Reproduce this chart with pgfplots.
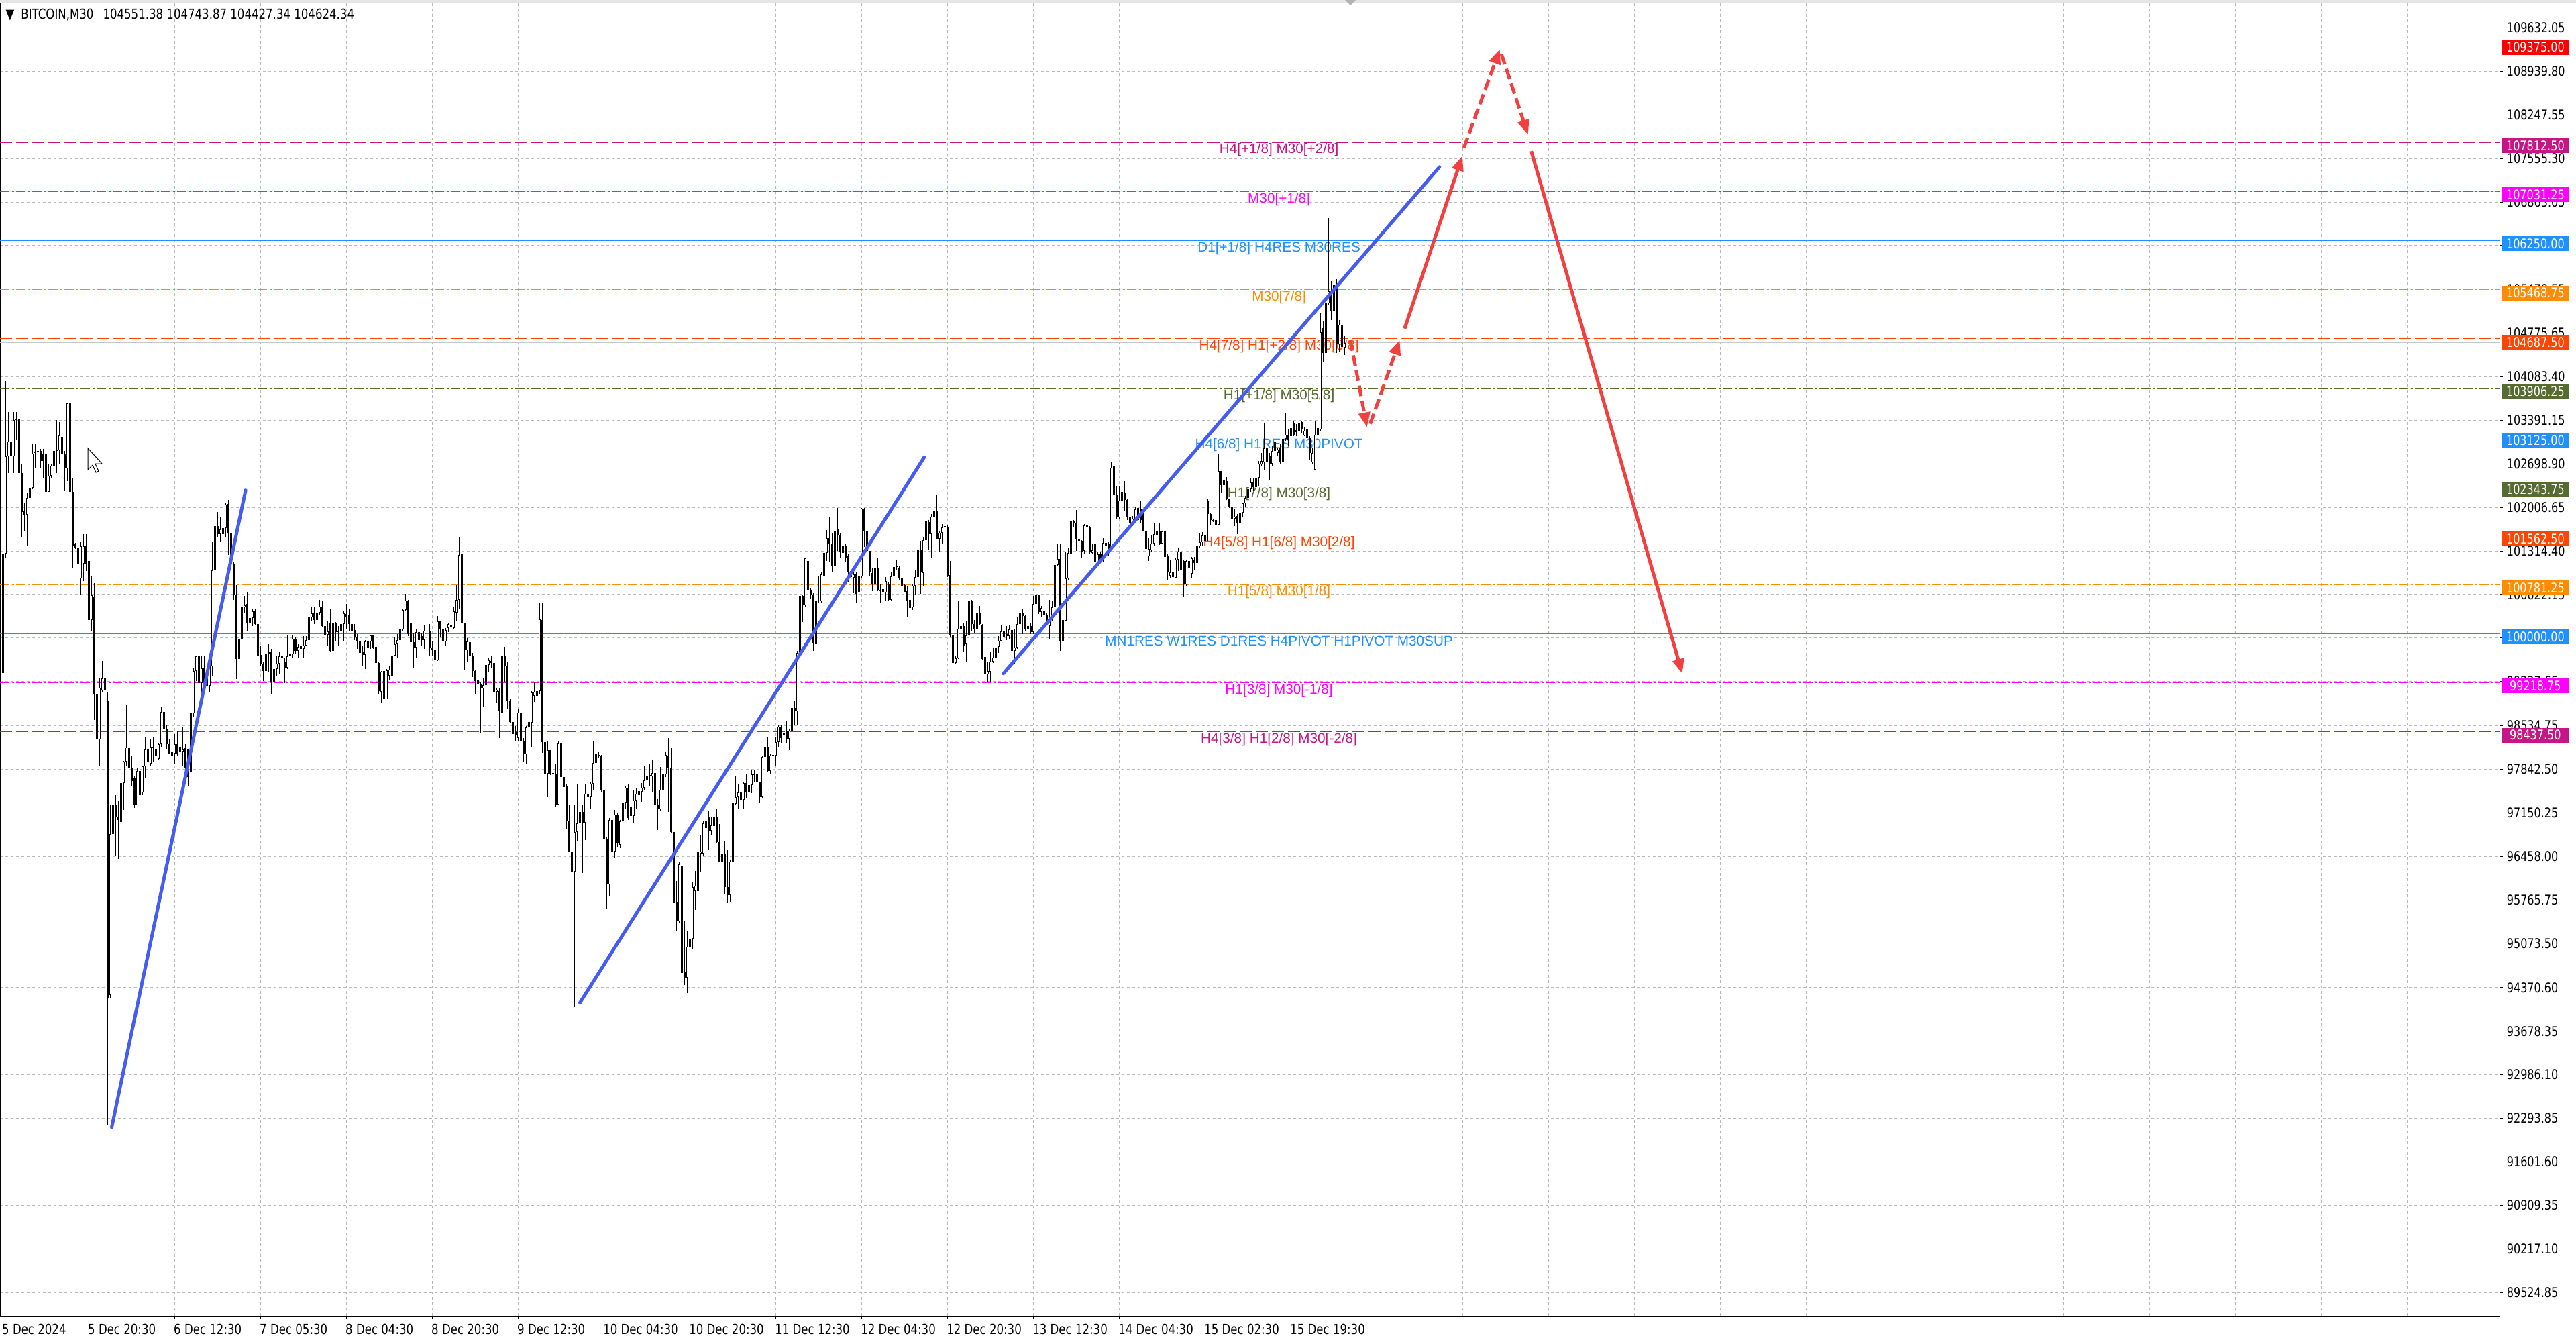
\documentclass[border=0pt]{standalone}
\usepackage{fontspec}
\setmainfont{Liberation Sans}
\newfontfamily\mtfont{DejaVu Sans}[FakeStretch=0.8]
\usepackage{pgfplots}
\usepackage{pgfplotstable}
\pgfplotsset{compat=1.18}
\usetikzlibrary{arrows.meta}
\definecolor{cRed}{HTML}{FF0000}
\definecolor{cViolet}{HTML}{C71585}
\definecolor{cMagenta}{HTML}{FF00FF}
\definecolor{cDodger}{HTML}{1E90FF}
\definecolor{cOrange}{HTML}{FF8C00}
\definecolor{cOrRed}{HTML}{FF4500}
\definecolor{cOlive}{HTML}{556B2F}
\definecolor{cGrid}{HTML}{B8B8B8}
\definecolor{cTrend}{RGB}{68,92,242}
\definecolor{cArrow}{RGB}{242,64,64}
\newcommand{\tickf}{\mtfont\fontsize{5.7pt}{6pt}\selectfont}
\newcommand{\datef}{\mtfont\fontsize{5.9pt}{6pt}\selectfont}
\newcommand{\lvlf}{\fontsize{5.9pt}{7pt}\selectfont}
\tikzset{
  pbox/.style={anchor=west, xshift=0.02cm, yshift=-0.05cm, minimum width=1.01cm, minimum height=0.22cm, inner sep=0pt, text=white, font=\tickf},
  lvl/.style={anchor=center, yshift=-0.115cm, inner sep=0pt, font=\lvlf},
  dashd/.style={dash pattern=on 0.18cm off 0.06cm},
  dashdot/.style={dash pattern=on 0.14cm off 0.035cm on 0.03cm off 0.035cm},
}
\pgfplotstableread{
o c h l
99370 101270 101890 99300
101270 102820 104010 101200
102820 103050 103520 102550
103050 102820 103600 102550
102820 103400 103520 102550
103400 103420 103520 103090
103420 102550 103480 101850
102550 101930 102700 101540
101940 101890 102080 101620
101890 102160 102240 101390
102160 102320 102670 102150
102320 102860 103010 102300
102870 102890 103010 102630
102890 102910 103250 102880
102910 102740 102940 102630
102860 102740 102940 102470
102860 102250 102870 102250
102250 102510 102700 102250
102510 102670 102700 102470
102670 102900 102980 102630
102900 102920 103400 102550
102920 103150 103360 102700
103130 102860 103320 102740
102860 102630 102900 102280
102630 103660 103670 102430
103660 102250 103670 102250
102250 101400 102470 101040
101420 101370 101440 101350
101370 101110 101580 100610
100880 101390 101460 100610
101110 101390 101580 100840
101390 101110 101580 101000
101150 100220 101160 100220
100220 100610 100920 100030
100590 99040 100800 98630
99040 98320 99140 98010
98320 99140 99290 97890
99100 99290 99560 99060
99290 99100 99330 99060
98940 94210 99060 92190
94250 96810 97270 94210
96810 97270 97580 95530
97270 97080 97430 96460
97080 97040 97350 96420
97000 97620 97890 97000
97620 97970 97980 97200
97970 98190 98860 97890
98190 97860 98200 97850
97860 97660 98050 97580
97700 97270 97740 97230
97270 97820 97860 97270
97820 97430 97830 97420
97470 97890 97900 97430
97890 98170 98360 97700
98170 97970 98240 97890
97930 98200 98320 97890
98200 98180 98360 97970
98170 98050 98200 98010
98010 98240 98260 98000
98240 98750 98830 98200
98750 98480 98830 98440
98480 98240 98550 98170
98240 98090 98320 98080
98110 98060 98200 97780
98090 98240 98400 97930
98240 98090 98440 98050
98200 98130 98210 97890
98130 98170 98510 97890
98190 97860 98240 97700
98170 97720 98170 97580
97800 98730 99060 97700
98730 99410 99450 98670
99410 99640 99650 99250
99640 99210 99650 99140
99210 99450 99640 98980
99450 99210 99640 99140
99370 99170 99560 98940
99170 99480 99640 99060
99480 101010 101460 99330
101010 101710 101930 101000
101710 101580 101930 101540
101580 101660 101850 101460
101580 101680 102010 101420
101680 102050 102080 101540
102060 101590 102130 101250
101590 101100 101610 101050
101100 100610 101140 100540
100610 99600 100770 99280
99600 99920 99940 99460
99920 100420 100600 99730
100420 100450 100600 100330
100470 100170 100650 100050
100170 100250 100350 100050
100250 100360 100400 100120
100360 100150 100400 100130
100150 99650 100170 99510
99660 99520 99800 99480
99520 99410 99550 99250
99410 99680 99890 99390
99680 99700 99830 99390
99700 99230 99760 99030
99230 99440 99550 99280
99440 99520 99650 99330
99520 99640 99710 99350
99620 99650 99690 99510
99550 99460 99620 99210
99460 99640 99970 99440
99640 99670 99800 99550
99670 99920 99970 99620
99920 99730 99940 99670
99730 99790 99830 99620
99800 99760 99900 99710
99760 99810 99960 99620
99810 99900 99960 99800
99900 100260 100400 99850
100260 100320 100420 100190
100320 100220 100420 100150
100220 100330 100470 100190
100330 100430 100540 100290
100430 100120 100530 100100
100120 99980 100150 99810
99980 100030 100190 99810
100170 99720 100400 99710
99720 100170 100190 99700
100170 100020 100180 99870
100020 100040 100120 99810
100040 100150 100260 99900
100150 100320 100350 99890
100310 100270 100470 100080
100290 100150 100400 100050
100150 100050 100260 99970
100060 99950 100150 99900
99950 99890 99990 99760
99890 99690 99900 99580
99710 99660 99800 99480
99660 99870 99900 99440
99890 99780 99920 99730
99870 99970 99980 99760
99970 99780 99980 99760
99790 99530 99800 99350
99530 99080 99550 99030
99070 99390 99410 98890
99400 98960 99440 98770
98960 99420 99440 98960
99330 99430 99490 99260
99330 99650 99670 99210
99650 99830 99940 99640
99830 99900 99990 99620
99900 100070 100370 99690
100070 100380 100400 100050
100380 100530 100630 100350
100530 99990 100540 99960
100160 99860 100270 99760
99860 99780 100010 99460
99780 100020 100080 99620
100020 99900 100210 99890
99960 99900 100010 99810
99900 100050 100130 99760
100030 100050 100120 99940
100050 99770 100150 99650
99770 99740 99870 99640
99740 99580 99900 99550
99580 100190 100280 99570
100210 100080 100210 99940
100080 99870 100100 99870
99870 100060 100090 99800
100090 100150 100170 100020
100130 100110 100140 100070
100090 100350 100420 100070
100330 100540 100770 100190
100540 101250 101530 100390
101260 100170 101350 100070
100170 99750 100170 99430
99740 99880 99930 99540
99860 99640 99930 99490
99640 99410 99690 99310
99410 99250 99420 99030
99260 99200 99290 99030
99200 99140 99230 98420
99130 99180 99290 98830
99180 99500 99540 99130
99500 99580 99610 99390
99560 99530 99650 99460
99530 99070 99560 99060
99070 99110 99130 98890
99090 98760 99130 98340
98740 99640 99810 98710
99640 99490 99790 99230
99490 98940 99540 98810
98940 98590 98960 98580
98590 98400 98880 98380
98430 98380 98530 98280
98340 98740 98810 98280
98740 98300 98750 98130
98290 98080 98340 97950
98080 98510 98530 97930
98510 98590 98630 98200
98580 99060 99080 98200
99010 99070 99230 98910
99010 99090 99210 98880
99090 100230 100480 99030
100220 98270 100480 98100
98270 97770 98400 97450
97770 98150 98300 97400
98150 97770 98160 97750
97780 97760 97800 97650
97770 97280 97920 97250
97280 98250 98290 97270
98250 97720 98280 97700
97720 97560 97730 97550
97570 97020 97600 96890
97020 96540 97270 96520
96540 96220 96550 96070
96210 96840 97280 94060
96840 96980 97600 96690
96990 97160 97600 94740
97160 96990 97280 96190
96990 97450 97600 96720
97450 97400 97520 97220
97400 97610 97650 97220
97610 97940 98280 97520
97940 98080 98150 97650
98050 98070 98130 98030
98050 97510 98070 97470
97510 96740 97520 96690
96740 96010 96770 95620
96010 97040 97070 95820
97040 96540 97070 96000
96540 97120 97200 96430
97120 96660 97150 96610
96640 97020 97040 96590
97020 97310 97330 96870
97310 97550 97580 97220
97550 97070 97600 97040
97250 97100 97270 96940
97100 97350 97520 96990
97350 97450 97550 97220
97430 97500 97750 97320
97480 97550 97620 97320
97550 97670 97900 97520
97670 97730 97900 97650
97730 97750 97930 97570
97730 97780 98000 97470
97780 97270 97880 97250
97270 97210 97370 96880
97210 97520 97880 97170
97520 97770 97800 97500
97760 98070 98130 97720
98050 97870 98340 97160
97870 96840 98190 96830
96840 95720 96850 95690
95730 95430 96070 95280
95430 96330 96370 95390
96300 94600 96370 94540
94610 94530 95430 94410
94530 95020 95280 94280
95020 95150 95550 94930
95150 95970 96040 94980
95910 95990 96230 95610
95910 96520 96610 95740
96500 96530 96790 96210
96500 96980 97020 96460
96910 97010 97240 96890
97090 96870 97190 96560
96870 96950 97080 96790
96940 97080 97240 96890
97090 96680 97210 96670
96680 96380 96970 96370
96380 96490 96560 96100
96490 95970 96700 95860
95970 95840 96560 95720
95840 96380 96410 95740
96380 97310 97320 96310
97290 97400 97730 97270
97400 97470 97600 97210
97470 97360 97680 97220
97360 97620 97650 97220
97620 97480 97760 97380
97480 97590 97680 97380
97590 97760 97840 97460
97750 97770 97840 97650
97770 97640 97840 97590
97640 97400 97650 97310
97400 98040 98060 97380
98040 98200 98550 97970
98200 97820 98360 97810
97820 98060 98080 97770
98050 98070 98150 98000
98060 98270 98360 97890
98270 98520 98550 98200
98520 98340 98550 98250
98380 98420 98520 98330
98440 98330 98600 98250
98330 98460 98490 98160
98460 98820 98910 98440
98820 98760 98930 98550
98760 99690 99720 98550
99670 100600 100910 99530
100600 100450 100610 100180
100450 101200 101210 100420
101160 100700 101210 100400
100700 100610 100720 100560
100610 99850 100640 99720
99830 100530 100590 99660
100510 100530 100910 100480
100510 100940 100970 100480
100920 101280 101320 100910
101280 101520 101650 101160
101520 101430 101850 101130
101430 101070 101590 100970
101070 101630 101680 101020
101670 101560 102000 101320
101560 101300 101590 101210
101280 101390 101460 101240
101390 101210 101430 101130
101240 100970 101270 100810
101000 100900 101020 100830
100890 100940 100970 100640
100940 100630 100970 100480
100650 100910 100940 100630
100910 101990 102000 100890
101980 101620 102000 101380
101620 101310 101650 101240
101310 100970 101310 100910
100960 100780 101050 100670
100780 101050 101080 100670
101050 100700 101210 100670
100700 100670 100780 100480
100710 100650 100760 100530
100650 100830 100900 100530
100780 100540 100810 100520
100540 100910 100970 100510
100910 101060 101080 100850
101060 101070 101180 101020
101050 100880 101080 100860
100880 100760 100900 100650
100770 100660 100790 100650
100670 100530 100760 100260
100540 100410 100560 100310
100420 100760 100790 100380
100760 100900 101020 100610
100900 101330 101650 100790
101330 100970 101470 100630
100960 101490 101540 100760
101490 101780 101810 100670
101770 101580 101810 101340
101580 101860 101900 101200
101860 101950 102650 101850
101950 101510 102200 101500
101510 101600 101630 101300
101600 101690 101740 101420
101690 101710 101770 101380
101700 100920 101720 100900
100930 99970 101150 99940
99970 99530 100210 99330
99530 99610 99650 99510
99610 100080 100530 99600
100070 100120 100190 99710
100120 99810 100170 99710
99830 99970 100190 99550
99970 100530 100540 99890
100530 100150 100540 100050
100150 100070 100220 100010
100070 100320 100330 100060
100320 100150 100440 100130
100130 99600 100150 99590
99630 99350 99710 99230
99350 99400 99550 99230
99390 99550 99710 99220
99550 99620 99780 99530
99620 99780 99850 99590
99790 99890 99960 99690
99890 100040 100130 99870
100040 99940 100220 99920
99990 99960 100120 99900
99960 100070 100130 99920
100060 99730 100100 99710
99730 99780 100080 99510
99780 100150 100260 99760
100150 100330 100380 100120
100320 100280 100400 99990
100280 100070 100290 100030
100070 100120 100210 100010
100120 100020 100170 99990
100020 100470 100600 99990
100470 100610 100790 100470
100610 100340 100620 100310
100340 100410 100440 100260
100350 100290 100370 100220
100290 100220 100320 100190
100120 100250 100540 99920
100250 100420 100510 100210
100420 101090 101110 100410
101090 101190 101430 101080
101190 99890 101420 99720
99890 100220 100240 99810
100210 100880 101290 100190
100880 101280 101360 100860
101270 101790 101970 101260
101790 101750 101810 101700
101750 101510 101970 101310
101510 101470 101610 101450
101480 101300 101490 101200
101310 101720 101740 101260
101720 101700 101910 101680
101700 101290 101710 101270
101280 101330 101420 101270
101420 101130 101430 101110
101130 101260 101290 101090
101260 101180 101290 101150
101180 101440 101520 101140
101440 101400 101540 101380
101420 101340 101450 101240
101360 102640 102720 101330
102660 102200 102720 102160
102200 101850 102340 101830
101850 102110 102340 101830
102110 102250 102280 101940
102240 102130 102420 101960
102130 101850 102150 101810
101850 101750 101900 101690
101750 101830 101870 101710
101830 101980 102020 101790
102000 101810 102020 101730
101980 101810 102110 101750
101900 101640 101920 101620
101640 101350 101830 101300
101230 101350 101520 101160
101330 101430 101560 101290
101430 101580 101750 101390
101570 101620 101730 101540
101630 101430 101750 101410
101430 101620 101640 101420
101640 101220 101750 101200
101240 100980 101260 100860
100920 100970 101180 100880
100970 100900 101030 100810
100890 101180 101200 100880
101180 101300 101370 100990
101300 101010 101310 100800
101160 100780 101180 100590
100780 101160 101180 100760
101160 101050 101220 100970
100950 101200 101220 100880
101180 101120 101220 101010
101120 101390 101430 101010
101390 101450 101600 101370
101450 101560 101610 101390
101560 101470 101580 101260
102120 101900 102140 101470
101900 101810 101920 101730
101810 101800 101830 101770
101810 101720 101830 101710
101730 102580 102850 101720
102580 102360 102590 102230
102360 102440 102490 102230
102420 102140 102490 102130
102140 102020 102150 102000
102020 101830 102040 101730
101830 101860 101980 101710
101870 101750 101900 101580
101750 101920 101980 101600
101920 102070 102070 101850
102070 102160 102190 102020
102160 102300 102340 102040
102300 102400 102470 102250
102400 102330 102470 102280
102330 102480 102610 102320
102480 102700 102740 102340
102690 102740 102870 102660
102720 102950 103350 102610
102950 102720 102990 102700
102820 102700 102870 102440
102700 102910 102990 102660
102910 103040 103080 102850
102870 102930 102960 102830
102950 102720 103010 102700
102720 103100 103270 102580
103100 103160 103500 103060
103150 103080 103250 102990
103140 103270 103380 103120
103350 103160 103370 103140
103200 103240 103330 103140
103230 103340 103440 103200
103360 103250 103390 103180
103150 103230 103290 103140
103250 103110 103270 103080
103110 102870 103140 102760
102720 102870 102950 102700
102610 103160 103380 102610
103160 103270 103370 103140
103250 104790 105100 103230
104860 104460 104980 104310
104460 105250 105610 104430
105250 105440 106610 105230
105440 105130 105600 104990
105130 105540 105640 105100
105540 104600 105640 104460
104600 104910 104990 104480
104910 104560 104990 104260
104551 104624 104743 104427
}\candles
\begin{document}
\begin{tikzpicture}
\begin{axis}[
  at={(0,0)}, anchor=south west,
  scale only axis, width=37.26cm, height=19.56cm,
  xmin=-1.125, xmax=930.375, ymin=89151.4, ymax=110021.5,
  set layers, clip=false, scaled ticks=false,
  axis line style={black, line width=0.01cm},
  xtick={0,32,...,480},
  xticklabels={5 Dec 2024, 5 Dec 20:30, 6 Dec 12:30, 7 Dec 05:30, 8 Dec 04:30, 8 Dec 20:30, 9 Dec 12:30, 10 Dec 04:30, 10 Dec 20:30, 11 Dec 12:30, 12 Dec 04:30, 12 Dec 20:30, 13 Dec 12:30, 14 Dec 04:30, 15 Dec 02:30, 15 Dec 19:30},
  extra x ticks={512,544,...,928},
  extra x tick labels={},
  extra x tick style={major tick length=0pt},
  ytick={109632.05,108939.80,108247.55,107555.30,106863.05,106170.80,105478.55,104775.65,104083.40,103391.15,102698.90,102006.65,101314.40,100622.15,99929.90,99237.65,98534.75,97842.50,97150.25,96458.00,95765.75,95073.50,94370.60,93678.35,92986.10,92293.85,91601.60,90909.35,90217.10,89524.85},
  yticklabels={109632.05,108939.80,108247.55,107555.30,106863.05,106170.80,105478.55,104775.65,104083.40,103391.15,102698.90,102006.65,101314.40,100622.15,99929.90,99237.65,98534.75,97842.50,97150.25,96458.00,95765.75,95073.50,94370.60,93678.35,92986.10,92293.85,91601.60,90909.35,90217.10,89524.85},
  xtick pos=left, ytick pos=right, yticklabel pos=right,
  tick align=outside, major tick length=0.05cm,
  tick style={black, line width=0.01cm},
  grid=major,
  grid style={cGrid, line width=0.01cm, dash pattern=on 0.04cm off 0.04cm},
  xticklabel style={font=\datef, anchor=north west, inner sep=0pt, xshift=-0.02cm, yshift=-0.06cm},
  yticklabel style={font=\tickf, anchor=west, inner sep=0pt, xshift=0.05cm},
]
% level lines
\addplot[cRed, line width=0.01cm] coordinates {(-1.125,109375) (930.375,109375)};
\addplot[cViolet, line width=0.01cm, dashd] coordinates {(-1.125,107812.5) (930.375,107812.5)};
\addplot[cMagenta, line width=0.01cm, dashdot] coordinates {(-1.125,107031.25) (930.375,107031.25)};
\addplot[cDodger, line width=0.01cm] coordinates {(-1.125,106250) (930.375,106250)};
\addplot[cOrange, line width=0.01cm, dashdot] coordinates {(-1.125,105468.75) (930.375,105468.75)};
\addplot[cOrRed, line width=0.01cm, dashd] coordinates {(-1.125,104687.5) (930.375,104687.5)};
\addplot[cOlive, line width=0.01cm, dashdot] coordinates {(-1.125,103906.25) (930.375,103906.25)};
\addplot[cDodger, line width=0.01cm, dashd] coordinates {(-1.125,103125) (930.375,103125)};
\addplot[cOlive, line width=0.01cm, dashdot] coordinates {(-1.125,102343.75) (930.375,102343.75)};
\addplot[cOrRed, line width=0.01cm, dashd] coordinates {(-1.125,101562.5) (930.375,101562.5)};
\addplot[cOrange, line width=0.01cm, dashdot] coordinates {(-1.125,100781.25) (930.375,100781.25)};
\addplot[cDodger, line width=0.02cm] coordinates {(-1.125,100000) (930.375,100000)};
\addplot[cMagenta, line width=0.01cm, dashdot] coordinates {(-1.125,99218.75) (930.375,99218.75)};
\addplot[cViolet, line width=0.01cm, dashd] coordinates {(-1.125,98437.5) (930.375,98437.5)};
\addplot[gray!45, line width=0.01cm] coordinates {(-1.125,104624.34) (930.375,104624.34)};
% level texts
\node[lvl, text=cViolet] at (axis cs:475.5,107812.5) {H4[+1/8] M30[+2/8]};
\node[lvl, text=cMagenta] at (axis cs:475.5,107031.25) {M30[+1/8]};
\node[lvl, text=cDodger] at (axis cs:475.5,106250) {D1[+1/8] H4RES M30RES};
\node[lvl, text=cOrange] at (axis cs:475.5,105468.75) {M30[7/8]};
\node[lvl, text=cOrRed] at (axis cs:475.5,104687.5) {H4[7/8] H1[+2/8] M30[6/8]};
\node[lvl, text=cOlive] at (axis cs:475.5,103906.25) {H1[+1/8] M30[5/8]};
\node[lvl, text=cDodger] at (axis cs:475.5,103125) {H4[6/8] H1RES M30PIVOT};
\node[lvl, text=cOlive] at (axis cs:475.5,102343.75) {H1[7/8] M30[3/8]};
\node[lvl, text=cOrRed] at (axis cs:475.5,101562.5) {H4[5/8] H1[6/8] M30[2/8]};
\node[lvl, text=cOrange] at (axis cs:475.5,100781.25) {H1[5/8] M30[1/8]};
\node[lvl, text=cDodger] at (axis cs:475.5,100000) {MN1RES W1RES D1RES H4PIVOT H1PIVOT M30SUP};
\node[lvl, text=cMagenta] at (axis cs:475.5,99218.75) {H1[3/8] M30[-1/8]};
\node[lvl, text=cViolet] at (axis cs:475.5,98437.5) {H4[3/8] H1[2/8] M30[-2/8]};
% candles: wicks
\addplot[draw=none, mark=none, error bars/.cd, y dir=minus, y explicit, error mark=none,
  error bar style={draw=black, solid, line width=0.012cm}]
  table[x expr=\coordindex, y=h, y error expr={\thisrow{h}-\thisrow{l}}] {\candles};
% bodies
\addplot[draw=none, mark=none, error bars/.cd, y dir=minus, y explicit, error mark=none,
  error bar style={draw=black, solid, line width=0.03cm}]
  table[x expr=\coordindex, y expr={max(\thisrow{o},\thisrow{c})}, y error expr={max(abs(\thisrow{o}-\thisrow{c}),10.7)}] {\candles};
% hollow interior of bullish bodies
\addplot[draw=none, mark=none, error bars/.cd, y dir=minus, y explicit, error mark=none,
  error bar style={draw=white, solid, line width=0.01cm}]
  table[x expr=\coordindex, y expr={\thisrow{c}-10.7}, y error expr={max(\thisrow{c}-\thisrow{o}-21.4,0)}] {\candles};
% trend lines
\addplot[cTrend, line width=0.05cm, line cap=round] coordinates {(40.5,92150) (90.4,102280)};
\addplot[cTrend, line width=0.05cm, line cap=round] coordinates {(215.0,94130) (343.3,102805)};
\addplot[cTrend, line width=0.05cm, line cap=round] coordinates {(372.8,99365) (535.3,107420)};
% projected arrows
\addplot[cArrow, line width=0.05cm, dash pattern=on 0.16cm off 0.07cm, -{Triangle[length=0.22cm, width=0.17cm]}] coordinates {(502.1,104667) (508.3,103282)};
\addplot[cArrow, line width=0.05cm, dash pattern=on 0.16cm off 0.07cm, -{Triangle[length=0.22cm, width=0.17cm]}] coordinates {(509.5,103335) (520.5,104667)};
\addplot[cArrow, line width=0.05cm, -{Triangle[length=0.22cm, width=0.17cm]}] coordinates {(522.3,104850) (543.8,107594)};
\addplot[cArrow, line width=0.05cm, dash pattern=on 0.16cm off 0.07cm, -{Triangle[length=0.22cm, width=0.17cm]}] coordinates {(544.4,107725) (557.8,109292)};
\addplot[cArrow, line width=0.05cm, dash pattern=on 0.16cm off 0.07cm, -{Triangle[length=0.22cm, width=0.17cm]}] coordinates {(558.4,109214) (568.3,107934)};
\addplot[cArrow, line width=0.05cm, -{Triangle[length=0.22cm, width=0.17cm]}] coordinates {(569.5,107672) (625.8,99363)};
% price boxes
\node[pbox, fill=cRed] at (axis cs:930.375,109375) {109375.00};
\node[pbox, fill=cViolet] at (axis cs:930.375,107812.5) {107812.50};
\node[pbox, fill=cMagenta] at (axis cs:930.375,107031.25) {107031.25};
\node[pbox, fill=cDodger] at (axis cs:930.375,106250) {106250.00};
\node[pbox, fill=cOrange] at (axis cs:930.375,105468.75) {105468.75};
\node[pbox, fill=cOrRed] at (axis cs:930.375,104687.5) {104687.50};
\node[pbox, fill=cOlive] at (axis cs:930.375,103906.25) {103906.25};
\node[pbox, fill=cDodger] at (axis cs:930.375,103125) {103125.00};
\node[pbox, fill=cOlive] at (axis cs:930.375,102343.75) {102343.75};
\node[pbox, fill=cOrRed] at (axis cs:930.375,101562.5) {101562.50};
\node[pbox, fill=cOrange] at (axis cs:930.375,100781.25) {100781.25};
\node[pbox, fill=cDodger] at (axis cs:930.375,100000) {100000.00};
\node[pbox, fill=cMagenta] at (axis cs:930.375,99218.75) {99218.75};
\node[pbox, fill=cViolet] at (axis cs:930.375,98437.5) {98437.50};
\end{axis}
\fill[gray!20] (0,19.57) rectangle (38.4,19.61);
\fill[gray!60] (20.05,19.61) -- (20.21,19.61) -- (20.13,19.53) -- cycle;
% header
\node[anchor=west, inner sep=0pt, font=\datef] at (0.08,19.39) {▼\hspace{0.1cm}BITCOIN,M30\hspace{0.14cm}104551.38 104743.87 104427.34 104624.34};
% mouse cursor
\draw[black, fill=white, line width=0.01cm, line join=miter]
  (1.31,12.93) -- ++(0,-0.32) -- ++(0.07,0.07) -- ++(0.05,-0.11) -- ++(0.04,0.02) -- ++(-0.05,0.11) -- ++(0.10,0) -- cycle;
\pgfresetboundingbox
\path[use as bounding box] (0,-0.35) rectangle (38.4,19.61);
\end{tikzpicture}
\end{document}
